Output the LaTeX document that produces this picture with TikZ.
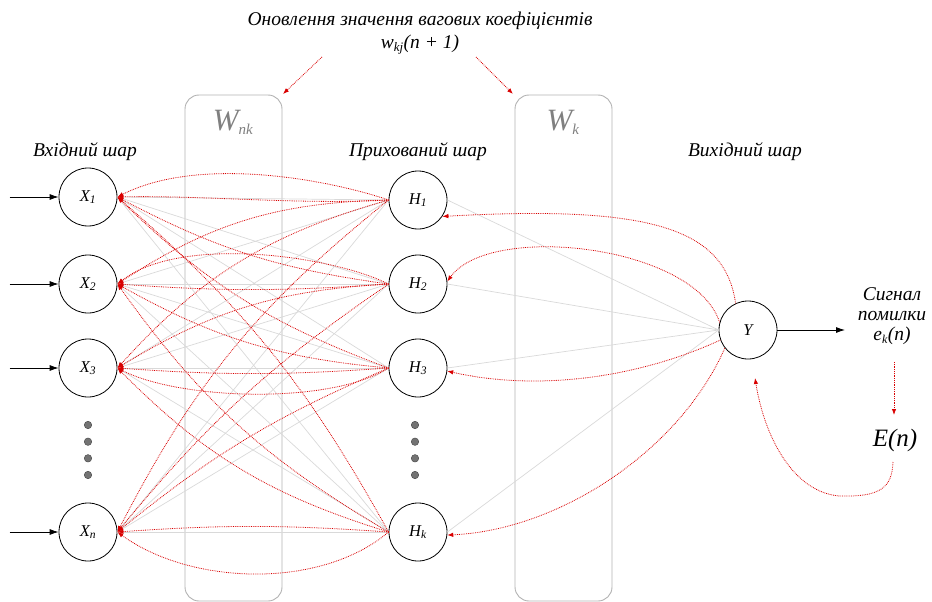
\documentclass[tikz,border=0pt]{standalone}
\usepackage{fontspec}
\setmainfont{Liberation Serif}
\usetikzlibrary{arrows.meta}
\newcommand\idx[2]{#1\textsubscript{#2}}
\begin{document}
\begin{tikzpicture}[x=1pt,y=-1pt,
  neuron/.style={circle, draw=black, line width=0.8pt, minimum size=58pt, inner sep=0pt,
    font=\fontsize{16.5}{18}\selectfont\itshape},
  wbox/.style={draw=black!30, rounded corners=14pt, line width=0.9pt, minimum width=97pt, minimum height=506pt},
  wlabel/.style={text=black!50, font=\fontsize{31}{31}\selectfont\itshape},
  layer/.style={font=\fontsize{19.5}{23}\selectfont\itshape},
  conn/.style={draw=black!15, line width=0.7pt},
  back/.style={draw=red!85!black, densely dotted, line width=0.8pt, -{Latex[length=6pt,width=4.5pt]}},
  inarrow/.style={draw=black, line width=0.8pt, -{Latex[length=9pt,width=6pt]}},
  ellip/.style={circle, fill=black!55, draw=black!75, minimum size=7.5pt, inner sep=0pt}]
\useasboundingbox (0,0) rectangle (932,602);

% weight blocks
\node[wbox] (wnk) at (233.5,348) {};
\node[wbox] (wk) at (563.5,348) {};
\node[wlabel] (wnkl) at (233,122) {W\textsubscript{\fontsize{15}{15}\selectfont nk}};
\node[wlabel] (wkl) at (563,122) {W\textsubscript{\fontsize{15}{15}\selectfont k}};

% title
\node[layer, align=center] (title) at (420,33)
  {Оновлення значення вагових коефіцієнтів\\ w\textsubscript{\fontsize{13}{13}\selectfont kj}(n + 1)};
\coordinate (ta1) at (322,57);
\coordinate (tb1) at (283,94);
\coordinate (ta2) at (476,57);
\coordinate (tb2) at (513,94);
\draw[back] (ta1) -- (tb1);
\draw[back] (ta2) -- (tb2);

% layer captions
\node[layer] (cin) at (85,152) {Вхідний шар};
\node[layer] (chid) at (418,152) {Прихований шар};
\node[layer] (cout) at (745,152) {Вихідний шар};

% input layer
\node[neuron] (x1) at (88,197) {\idx{X}{1}};
\node[neuron] (x2) at (88,284) {\idx{X}{2}};
\node[neuron] (x3) at (88,368) {\idx{X}{3}};
\node[neuron] (xn) at (88,532) {\idx{X}{n}};
\foreach \y [count=\i] in {425,441.7,458.3,475} {
  \node[ellip] (xd\i) at (88,\y) {};
  \node[ellip] (hd\i) at (415,\y) {};
}

% hidden layer
\node[neuron] (h1) at (418,200) {\idx{H}{1}};
\node[neuron] (h2) at (418,284) {\idx{H}{2}};
\node[neuron] (h3) at (418,368) {\idx{H}{3}};
\node[neuron] (hk) at (418,532) {\idx{H}{k}};

% output layer
\node[neuron] (yy) at (748,330) {Y};

% inputs
\foreach \n in {x1,x2,x3,xn} {
  \coordinate (\n in) at ([xshift=-49pt]\n.west);
  \draw[inarrow] (\n in) -- (\n.west);
}

% forward connections
\foreach \a in {x1,x2,x3,xn}
  \foreach \b in {h1,h2,h3,hk}
    \draw[conn] (\a.east) -- (\b.west);
\foreach \b in {h1,h2,h3,hk}
  \draw[conn] (\b.east) -- (yy.west);

% error signal
\node[layer, align=center] (sig) at (892,316) {Сигнал\\[-3pt] помилки\\[-3pt] e\textsubscript{\fontsize{12}{12}\selectfont k}(n)};
\coordinate (yout) at (845,330);
\draw[inarrow] (yy.east) -- (yout);
\node[font=\fontsize{25}{27}\selectfont\itshape] (en) at (895,440) {E(n)};
\coordinate (sigb) at (894,362);
\coordinate (ent) at (894,415);
\draw[back] (sigb) -- (ent);
\coordinate (enb) at (893,462);
\coordinate (ytarget) at (755,378);
\draw[back] (enb) .. controls (892,488) and (880,497) .. (840,496)
            .. controls (795,493) and (765,440) .. (ytarget);

% back-propagation from output to hidden layer
\draw[back] (yy.115) .. controls (725,228) and (650,205) .. (h1.-34);
\draw[back] (yy.165) .. controls (695,245) and (490,222) .. (h2.5);
\draw[back] (yy.200) .. controls (640,377) and (540,392) .. (h3.-6);
\draw[back] (yy.218) .. controls (680,450) and (560,530) .. (hk.-6);

% back-propagation from hidden to input layer
\draw[back] (h1.west) .. controls (330,180) and (200,155) .. (x1.east);
\draw[back] (h2.west) .. controls (330,255) and (180,235) .. (x2.east);
\draw[back] (h3.west) .. controls (330,405) and (180,400) .. (x3.east);
\draw[back] (hk.west) .. controls (320,590) and (190,585) .. (xn.east);

\draw[back] (h1.west) .. controls (300,205) and (200,195) .. (x1.east);
\draw[back] (h2.west) to[bend left=10] (x1.east);
\draw[back] (h3.west) to[bend left=12] (x1.east);
\draw[back] (hk.west) to[bend right=10] (x1.east);

\draw[back] (h1.west) to[bend right=16] (x2.east);
\draw[back] (h3.west) to[bend left=12] (x2.east);
\draw[back] (hk.west) to[bend left=12] (x2.east);
\draw[back] (h2.west) to[bend left=4] (x2.east);

\draw[back] (h1.west) to[bend right=16] (x3.east);
\draw[back] (h2.west) to[bend right=14] (x3.east);
\draw[back] (hk.west) to[bend left=14] (x3.east);
\draw[back] (h3.west) to[bend left=4] (x3.east);

\draw[back] (h1.west) to[bend right=12] (xn.east);
\draw[back] (h2.west) to[bend right=8] (xn.east);
\draw[back] (h3.west) to[bend right=8] (xn.east);
\draw[back] (hk.west) to[bend right=4] (xn.east);
\end{tikzpicture}
\end{document}
